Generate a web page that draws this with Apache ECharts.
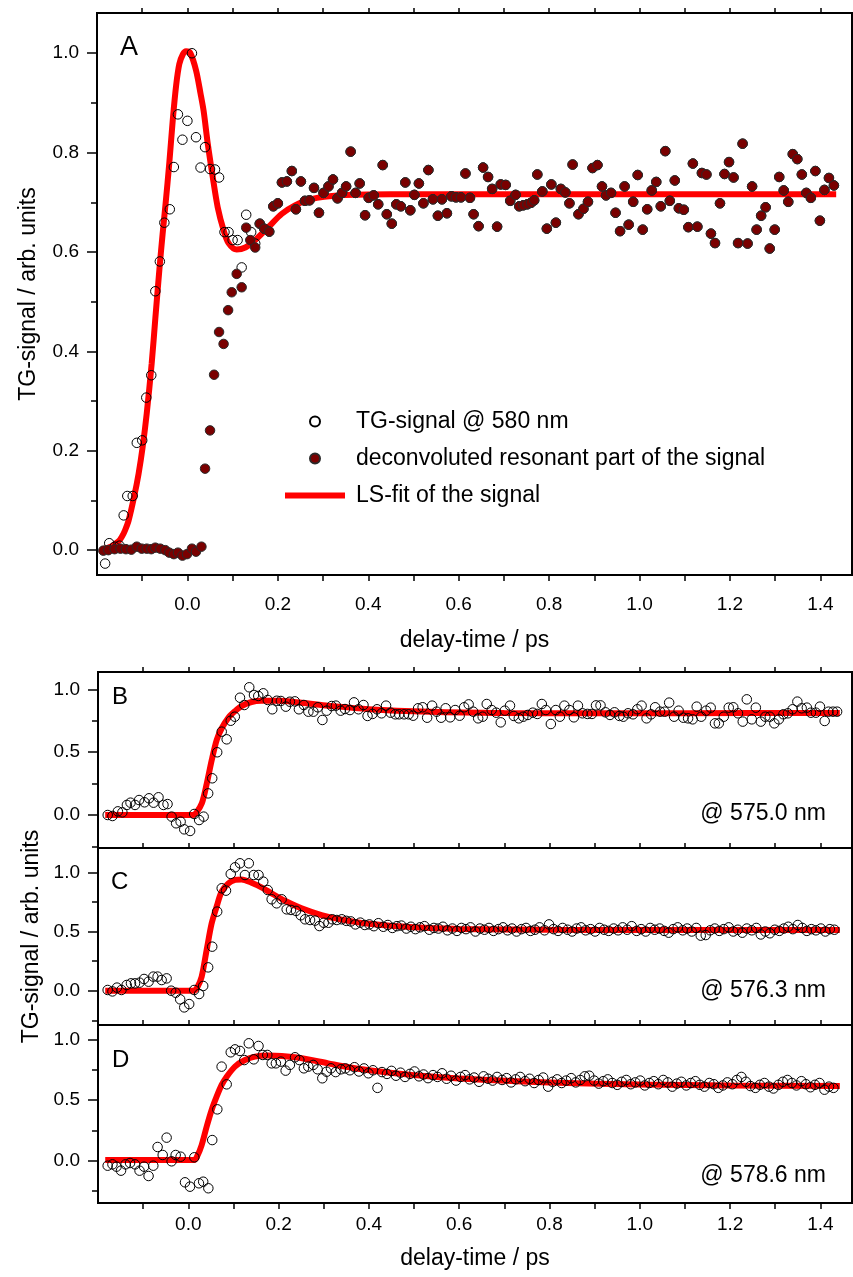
<!DOCTYPE html>
<html><head><meta charset="utf-8">
<script src="https://cdn.jsdelivr.net/npm/echarts@6.0.0/dist/echarts.min.js"></script>
<style>html,body{margin:0;padding:0;background:#fff}#c{width:853px;height:1277px}</style>
</head><body><div id="c"></div>
<script>
// ---------------- DATA ----------------
const xMajorTicks = [0, 0.2, 0.4, 0.6, 0.8, 1.0, 1.2, 1.4];
const xAllTicks = [-0.1, 0, 0.1, 0.2, 0.3, 0.4, 0.5, 0.6, 0.7, 0.8, 0.9, 1.0, 1.1, 1.2, 1.3, 1.4];
const yMajorA = [0, 0.2, 0.4, 0.6, 0.8, 1.0];
const yMinorA = [0.1, 0.3, 0.5, 0.7, 0.9];
const yMajorBCD = [0, 0.5, 1.0];
const yMinorBCD = [-0.25, 0.25, 0.75];

// Panel A: TG-signal @ 580 nm (open circles) before the two curves coincide
const tgEarlyA = [[-0.182,-0.027],[-0.173,0.014],[-0.161,0.007],[-0.150,0.009],[-0.141,0.070],[-0.133,0.109],[-0.121,0.109],[-0.112,0.216],[-0.100,0.221],[-0.091,0.307],[-0.080,0.352],[-0.071,0.521],[-0.061,0.581],[-0.051,0.659],[-0.039,0.686],[-0.030,0.771],[-0.021,0.877],[-0.011,0.826],[0.000,0.864],[0.010,1.000],[0.019,0.831],[0.029,0.770],[0.039,0.811],[0.050,0.767],[0.061,0.766],[0.070,0.750],[0.082,0.640],[0.091,0.640],[0.100,0.624],[0.111,0.624],[0.120,0.569],[0.130,0.675],[0.141,0.640],[0.150,0.617]];
// Panel A: deconvoluted resonant part (filled) before the curves coincide
const resEarlyA = [[-0.186,-0.001],[-0.175,0.000],[-0.161,0.002],[-0.148,0.003],[-0.136,0.002],[-0.124,0.001],[-0.112,0.007],[-0.101,0.003],[-0.090,0.003],[-0.080,0.002],[-0.071,0.005],[-0.060,0.003],[-0.049,0.000],[-0.040,-0.005],[-0.030,-0.008],[-0.021,-0.005],[-0.011,-0.011],[-0.001,-0.008],[0.010,0.003],[0.019,-0.003],[0.031,0.007],[0.039,0.164],[0.050,0.241],[0.059,0.353],[0.070,0.439],[0.080,0.415],[0.090,0.483],[0.098,0.519],[0.109,0.556],[0.120,0.529],[0.130,0.649],[0.139,0.624],[0.150,0.609]];
// Panel A: common part (both data sets identical)
const plateauA = [[0.160,0.657],[0.170,0.647],[0.181,0.641],[0.190,0.692],[0.200,0.698],[0.209,0.740],[0.220,0.742],[0.231,0.763],[0.240,0.686],[0.251,0.742],[0.260,0.703],[0.270,0.704],[0.280,0.729],[0.291,0.679],[0.301,0.719],[0.312,0.732],[0.322,0.746],[0.332,0.708],[0.342,0.719],[0.351,0.732],[0.361,0.802],[0.372,0.719],[0.381,0.738],[0.393,0.674],[0.401,0.709],[0.412,0.714],[0.422,0.696],[0.432,0.775],[0.441,0.676],[0.452,0.657],[0.462,0.696],[0.472,0.692],[0.482,0.740],[0.493,0.684],[0.502,0.715],[0.512,0.738],[0.522,0.698],[0.533,0.765],[0.543,0.706],[0.554,0.673],[0.563,0.706],[0.574,0.678],[0.584,0.712],[0.594,0.710],[0.605,0.710],[0.615,0.758],[0.625,0.709],[0.633,0.676],[0.644,0.652],[0.654,0.770],[0.665,0.751],[0.674,0.727],[0.685,0.651],[0.693,0.736],[0.704,0.735],[0.714,0.703],[0.726,0.715],[0.734,0.692],[0.743,0.694],[0.752,0.696],[0.760,0.699],[0.767,0.704],[0.774,0.756],[0.785,0.722],[0.795,0.647],[0.805,0.736],[0.815,0.659],[0.826,0.727],[0.836,0.720],[0.845,0.698],[0.852,0.776],[0.865,0.676],[0.876,0.687],[0.886,0.701],[0.896,0.769],[0.907,0.775],[0.917,0.732],[0.926,0.714],[0.937,0.719],[0.947,0.679],[0.957,0.642],[0.967,0.732],[0.976,0.655],[0.986,0.701],[0.996,0.755],[1.007,0.645],[1.017,0.686],[1.027,0.724],[1.037,0.741],[1.047,0.692],[1.057,0.803],[1.067,0.703],[1.078,0.744],[1.087,0.688],[1.098,0.685],[1.108,0.650],[1.118,0.778],[1.128,0.651],[1.138,0.759],[1.148,0.756],[1.158,0.637],[1.167,0.618],[1.178,0.698],[1.188,0.757],[1.198,0.781],[1.208,0.750],[1.218,0.618],[1.228,0.818],[1.239,0.617],[1.249,0.732],[1.259,0.645],[1.269,0.673],[1.279,0.690],[1.288,0.607],[1.299,0.645],[1.309,0.751],[1.319,0.724],[1.329,0.701],[1.339,0.797],[1.349,0.787],[1.359,0.756],[1.369,0.719],[1.379,0.709],[1.389,0.763],[1.399,0.663],[1.409,0.725],[1.419,0.749],[1.430,0.734]];
const fitA = [[-0.190,0.002],[-0.175,0.005],[-0.164,0.010],[-0.152,0.018],[-0.145,0.027],[-0.138,0.040],[-0.130,0.060],[-0.118,0.107],[-0.108,0.154],[-0.099,0.208],[-0.090,0.275],[-0.079,0.376],[-0.071,0.466],[-0.062,0.565],[-0.055,0.635],[-0.048,0.700],[-0.040,0.780],[-0.032,0.870],[-0.025,0.935],[-0.018,0.978],[-0.010,0.998],[-0.003,1.004],[0.006,1.001],[0.019,0.966],[0.029,0.919],[0.036,0.883],[0.045,0.818],[0.056,0.751],[0.067,0.690],[0.080,0.644],[0.091,0.618],[0.109,0.605],[0.128,0.609],[0.150,0.624],[0.179,0.650],[0.209,0.677],[0.238,0.694],[0.271,0.706],[0.338,0.714],[0.450,0.716],[0.700,0.716],[1.000,0.716],[1.435,0.716]];

// Panel B: @ 575.0 nm
const tgB = [[-0.1785,0.000],[-0.168,-0.008],[-0.156,0.029],[-0.146,0.021],[-0.136,0.080],[-0.128,0.098],[-0.118,0.080],[-0.109,0.119],[-0.097,0.101],[-0.087,0.133],[-0.077,0.098],[-0.066,0.141],[-0.055,0.080],[-0.046,0.087],[-0.037,-0.013],[-0.027,-0.066],[-0.017,-0.053],[-0.009,-0.114],[0.004,-0.127],[0.013,0.008],[0.024,-0.040],[0.034,-0.013],[0.044,0.172],[0.053,0.292],[0.064,0.499],[0.074,0.663],[0.085,0.602],[0.094,0.750],[0.103,0.782],[0.1145,0.933],[0.124,0.875],[0.135,1.016],[0.1455,0.955],[0.155,0.947],[0.166,0.968],[0.176,0.915],[0.186,0.841],[0.196,0.909],[0.205,0.907],[0.216,0.862],[0.225,0.901],[0.236,0.904],[0.245,0.841],[0.256,0.875],[0.266,0.822],[0.277,0.822],[0.287,0.857],[0.297,0.756],[0.3065,0.830],[0.3175,0.867],[0.327,0.870],[0.3375,0.830],[0.347,0.843],[0.358,0.835],[0.367,0.896],[0.377,0.841],[0.388,0.875],[0.397,0.788],[0.408,0.804],[0.418,0.841],[0.428,0.809],[0.438,0.870],[0.448,0.814],[0.4585,0.801],[0.467,0.801],[0.478,0.801],[0.488,0.801],[0.498,0.790],[0.509,0.849],[0.519,0.857],[0.529,0.774],[0.540,0.870],[0.550,0.822],[0.560,0.774],[0.570,0.849],[0.580,0.777],[0.591,0.835],[0.601,0.790],[0.611,0.857],[0.621,0.880],[0.631,0.822],[0.642,0.769],[0.652,0.782],[0.661,0.883],[0.672,0.835],[0.682,0.814],[0.692,0.737],[0.701,0.830],[0.7125,0.870],[0.721,0.788],[0.732,0.769],[0.742,0.782],[0.752,0.796],[0.763,0.814],[0.773,0.804],[0.783,0.883],[0.792,0.835],[0.803,0.724],[0.814,0.835],[0.823,0.782],[0.833,0.870],[0.844,0.835],[0.854,0.777],[0.863,0.870],[0.873,0.809],[0.884,0.804],[0.894,0.804],[0.903,0.872],[0.913,0.872],[0.924,0.817],[0.934,0.796],[0.944,0.817],[0.955,0.788],[0.9635,0.782],[0.974,0.809],[0.985,0.801],[0.9945,0.841],[1.004,0.870],[1.015,0.769],[1.025,0.801],[1.034,0.857],[1.045,0.822],[1.055,0.822],[1.065,0.894],[1.076,0.782],[1.086,0.830],[1.0965,0.774],[1.107,0.769],[1.117,0.761],[1.126,0.862],[1.136,0.782],[1.147,0.830],[1.157,0.854],[1.1665,0.729],[1.175,0.729],[1.186,0.782],[1.197,0.854],[1.207,0.857],[1.2175,0.809],[1.228,0.743],[1.237,0.920],[1.248,0.761],[1.257,0.854],[1.268,0.743],[1.278,0.782],[1.288,0.782],[1.298,0.729],[1.308,0.761],[1.318,0.801],[1.328,0.809],[1.3385,0.841],[1.349,0.902],[1.3585,0.849],[1.370,0.854],[1.379,0.814],[1.390,0.814],[1.399,0.862],[1.4095,0.748],[1.418,0.822],[1.428,0.822],[1.437,0.822]];
const fitB = [[-0.184,0],[0.010,0],[0.018,0.020],[0.030,0.093],[0.041,0.252],[0.052,0.438],[0.063,0.597],[0.074,0.690],[0.089,0.775],[0.103,0.825],[0.118,0.867],[0.140,0.899],[0.162,0.908],[0.199,0.908],[0.251,0.893],[0.310,0.870],[0.400,0.842],[0.535,0.822],[0.700,0.812],[0.905,0.809],[1.100,0.810],[1.443,0.812]];

// Panel C: @ 576.3 nm
const tgC = [[-0.1786,0.006],[-0.168,-0.006],[-0.158,0.026],[-0.148,0.006],[-0.1365,0.048],[-0.127,0.062],[-0.118,0.062],[-0.108,0.068],[-0.098,0.099],[-0.088,0.076],[-0.0775,0.119],[-0.068,0.119],[-0.059,0.090],[-0.048,0.104],[-0.038,0.000],[-0.028,-0.017],[-0.018,-0.073],[-0.009,-0.141],[0.002,-0.113],[0.013,0.006],[0.024,-0.028],[0.033,0.040],[0.044,0.197],[0.053,0.372],[0.064,0.668],[0.074,0.865],[0.0835,0.845],[0.094,0.986],[0.1035,1.042],[0.1145,1.076],[0.1255,0.977],[0.134,1.076],[0.145,0.977],[0.1555,0.977],[0.166,0.921],[0.176,0.850],[0.1846,0.772],[0.1957,0.738],[0.2068,0.772],[0.2179,0.687],[0.2275,0.682],[0.2386,0.674],[0.249,0.637],[0.2587,0.603],[0.2697,0.597],[0.2808,0.592],[0.2904,0.546],[0.300,0.574],[0.3104,0.574],[0.319,0.603],[0.329,0.597],[0.340,0.603],
[0.350,0.590],[0.360,0.585],[0.370,0.560],[0.381,0.575],[0.391,0.555],[0.401,0.560],[0.411,0.545],[0.421,0.570],[0.432,0.540],[0.442,0.555],[0.452,0.530],[0.462,0.545],[0.472,0.550],[0.483,0.525],[0.493,0.540],[0.503,0.520],[0.513,0.535],[0.523,0.545],[0.534,0.515],[0.544,0.530],[0.554,0.525],[0.564,0.540],[0.574,0.510],[0.585,0.525],[0.595,0.505],[0.605,0.530],[0.615,0.520],[0.625,0.535],[0.636,0.500],[0.646,0.525],[0.656,0.515],[0.666,0.530],[0.676,0.505],[0.687,0.520],[0.697,0.535],[0.707,0.510],[0.717,0.525],[0.727,0.500],[0.738,0.520],[0.748,0.530],[0.758,0.505],[0.768,0.515],[0.778,0.535],[0.789,0.510],[0.799,0.560],[0.809,0.520],[0.819,0.505],[0.829,0.530],[0.840,0.515],[0.850,0.500],[0.860,0.525],[0.870,0.535],[0.880,0.510],[0.891,0.520],[0.901,0.500],[0.911,0.530],[0.921,0.515],[0.931,0.505],[0.942,0.525],[0.952,0.510],[0.962,0.535],[0.972,0.515],[0.982,0.545],[0.993,0.505],[1.003,0.520],[1.013,0.500],[1.023,0.530],[1.033,0.515],[1.044,0.525],[1.054,0.505],[1.064,0.490],[1.074,0.520],[1.084,0.535],[1.095,0.510],[1.105,0.525],[1.115,0.500],[1.125,0.530],[1.135,0.465],[1.146,0.470],[1.156,0.510],[1.166,0.525],[1.176,0.505],[1.186,0.520],[1.197,0.535],[1.207,0.500],[1.217,0.515],[1.227,0.490],[1.237,0.525],[1.248,0.510],[1.258,0.530],[1.268,0.475],[1.278,0.500],[1.288,0.485],[1.299,0.515],[1.309,0.505],[1.319,0.525],[1.329,0.540],[1.339,0.520],[1.350,0.555],[1.360,0.530],[1.370,0.505],[1.380,0.520],[1.390,0.510],[1.401,0.525],[1.411,0.500],[1.421,0.520],[1.431,0.515]];
const fitC = [[-0.184,0],[0.012,0],[0.020,0.030],[0.0296,0.118],[0.0406,0.343],[0.0517,0.568],[0.0627,0.709],[0.0738,0.836],[0.0886,0.906],[0.1033,0.935],[0.118,0.940],[0.140,0.912],[0.162,0.873],[0.1846,0.822],[0.214,0.760],[0.251,0.696],[0.295,0.639],[0.340,0.600],[0.400,0.565],[0.500,0.535],[0.600,0.522],[0.800,0.515],[1.000,0.513],[1.443,0.513]];

// Panel D: @ 578.6 nm
const tgD = [[-0.1786,-0.041],[-0.168,-0.030],[-0.159,-0.049],[-0.149,-0.082],[-0.139,-0.030],[-0.129,-0.019],[-0.118,-0.030],[-0.108,-0.082],[-0.098,-0.049],[-0.088,-0.126],[-0.0775,-0.041],[-0.068,0.113],[-0.0567,0.047],[-0.048,0.190],[-0.037,-0.005],[-0.028,0.047],[-0.017,0.033],[-0.0073,-0.178],[0.0037,-0.214],[0.0133,0.028],[0.0236,-0.186],[0.033,-0.173],[0.0444,-0.227],[0.053,0.170],[0.0643,0.423],[0.0738,0.775],[0.085,0.629],[0.094,0.893],[0.1035,0.917],[0.1145,0.904],[0.124,0.829],[0.134,0.967],[0.145,0.835],[0.1555,0.945],[0.165,0.871],[0.175,0.871],[0.1846,0.802],[0.194,0.802],[0.205,0.816],[0.2156,0.742],[0.225,0.789],[0.2364,0.852],[0.246,0.829],[0.256,0.761],[0.2658,0.775],[0.2768,0.789],[0.2864,0.753],[0.2968,0.679],[0.3064,0.733],[0.316,0.761],[0.3264,0.730],[0.338,0.753],
[0.348,0.760],[0.358,0.745],[0.368,0.770],[0.378,0.735],[0.389,0.760],[0.399,0.720],[0.409,0.745],[0.419,0.600],[0.429,0.730],[0.440,0.715],[0.450,0.740],[0.460,0.700],[0.470,0.725],[0.480,0.690],[0.491,0.715],[0.501,0.735],[0.511,0.695],[0.521,0.710],[0.531,0.680],[0.542,0.705],[0.552,0.690],[0.562,0.720],[0.572,0.675],[0.582,0.700],[0.593,0.660],[0.603,0.690],[0.613,0.705],[0.623,0.670],[0.633,0.685],[0.644,0.650],[0.654,0.695],[0.664,0.675],[0.674,0.660],[0.684,0.690],[0.695,0.665],[0.705,0.680],[0.715,0.645],[0.725,0.670],[0.735,0.690],[0.746,0.655],[0.756,0.675],[0.766,0.640],[0.776,0.665],[0.786,0.685],[0.797,0.610],[0.807,0.650],[0.817,0.670],[0.827,0.640],[0.837,0.660],[0.848,0.680],[0.858,0.645],[0.868,0.665],[0.878,0.695],[0.888,0.700],[0.899,0.660],[0.909,0.635],[0.919,0.655],[0.929,0.670],[0.939,0.640],[0.950,0.625],[0.960,0.650],[0.970,0.665],[0.980,0.630],[0.990,0.645],[1.001,0.660],[1.011,0.620],[1.021,0.640],[1.031,0.655],[1.041,0.630],[1.052,0.665],[1.062,0.645],[1.072,0.610],[1.082,0.635],[1.092,0.650],[1.103,0.620],[1.113,0.640],[1.123,0.655],[1.133,0.625],[1.143,0.610],[1.154,0.640],[1.164,0.630],[1.174,0.600],[1.184,0.620],[1.194,0.645],[1.205,0.630],[1.215,0.665],[1.225,0.690],[1.235,0.650],[1.245,0.615],[1.256,0.600],[1.266,0.625],[1.276,0.640],[1.286,0.610],[1.296,0.595],[1.307,0.625],[1.317,0.650],[1.327,0.665],[1.337,0.640],[1.347,0.620],[1.358,0.655],[1.368,0.630],[1.378,0.605],[1.388,0.625],[1.398,0.640],[1.409,0.585],[1.419,0.610],[1.429,0.600]];
const fitD = [[-0.184,0.006],[0.013,0.006],[0.020,0.040],[0.0296,0.129],[0.0406,0.280],[0.0517,0.418],[0.0627,0.527],[0.0738,0.624],[0.085,0.692],[0.1033,0.775],[0.1255,0.829],[0.1477,0.857],[0.177,0.866],[0.2364,0.852],[0.310,0.802],[0.340,0.780],[0.400,0.745],[0.500,0.705],[0.600,0.678],[0.800,0.645],[1.000,0.628],[1.200,0.620],[1.443,0.615]];

const panelLetters = ['A', 'B', 'C', 'D'];
const wavelengthLabels = ['@ 575.0 nm', '@ 576.3 nm', '@ 578.6 nm'];
const legendNames = ['TG-signal @ 580 nm', 'deconvoluted resonant part of the signal', 'LS-fit of the signal'];

// ---------------- LAYOUT ----------------
const FONT = '"Liberation Sans", Arial, Helvetica, sans-serif';
const X_MIN = -0.2, X_MAX = 1.47;
const grids = [
  {left: 97, top: 13, width: 755, height: 562},
  {left: 98, top: 672, width: 754, height: 176},
  {left: 98, top: 848, width: 754, height: 177},
  {left: 98, top: 1025, width: 754, height: 178}
];
const yRanges = [[-0.050, 1.081], [-0.2625, 1.1376], [-0.2897, 1.2052], [-0.3484, 1.1178]];

const xAxes = [], yAxes = [];
grids.forEach((g, i) => {
  const showBottom = (i === 0 || i === 3);
  xAxes.push({
    gridIndex: i, type: 'value', min: X_MIN, max: X_MAX, position: 'bottom',
    axisLine: {show: false, onZero: false}, splitLine: {show: false},
    axisTick: {show: showBottom, length: 6, lineStyle: {color: '#000', width: 1.5}, customValues: xAllTicks},
    axisLabel: {show: showBottom, customValues: xMajorTicks, formatter: v => v.toFixed(1),
      fontSize: 19, color: '#000', fontFamily: FONT, margin: i === 0 ? 20 : 12},
    name: showBottom ? 'delay-time / ps' : '', nameLocation: 'middle', nameGap: i === 0 ? 54 : 44,
    nameTextStyle: {fontSize: 23, color: '#000', fontFamily: FONT}
  });
  xAxes.push({
    gridIndex: i, type: 'value', min: X_MIN, max: X_MAX, position: 'top',
    axisLine: {show: false, onZero: false}, splitLine: {show: false},
    axisTick: {show: true, length: 5, lineStyle: {color: '#000', width: 1.5}, customValues: xAllTicks},
    axisLabel: {show: false}
  });
  const maj = i === 0 ? yMajorA : yMajorBCD;
  const min = i === 0 ? yMinorA : yMinorBCD;
  yAxes.push({
    gridIndex: i, type: 'value', min: yRanges[i][0], max: yRanges[i][1], position: 'left',
    axisLine: {show: false, onZero: false}, splitLine: {show: false},
    axisTick: {show: true, length: 10, lineStyle: {color: '#000', width: 1.5}, customValues: maj},
    axisLabel: {show: true, customValues: maj, formatter: v => v.toFixed(1), fontSize: 19, color: '#000', fontFamily: FONT, margin: 18},
    name: (i === 0 || i === 2) ? 'TG-signal / arb. units' : '', nameLocation: 'middle', nameGap: i === 0 ? 57 : 55,
    nameTextStyle: {fontSize: 23, color: '#000', fontFamily: FONT}
  });
  yAxes.push({
    gridIndex: i, type: 'value', min: yRanges[i][0], max: yRanges[i][1], position: 'left',
    axisLine: {show: false, onZero: false}, splitLine: {show: false},
    axisTick: {show: true, length: 6, lineStyle: {color: '#000', width: 1.5}, customValues: min},
    axisLabel: {show: false}
  });
});

const openStyle = {color: 'rgba(0,0,0,0)', borderColor: '#000', borderWidth: 1, opacity: 1};
const filledStyle = {color: '#7a0000', borderColor: '#2a2a2a', borderWidth: 1, opacity: 1};
function fitSeries(name, data, gi) {
  return {name, type: 'line', data, xAxisIndex: 2 * gi, yAxisIndex: 2 * gi, smooth: 0.3,
    symbol: 'none', showSymbol: false, lineStyle: {color: '#ff0000', width: 6}, itemStyle: {color: '#ff0000'}, z: 2, silent: true};
}
function openSeries(name, data, gi) {
  return {name, type: 'scatter', data, xAxisIndex: 2 * gi, yAxisIndex: 2 * gi, symbol: 'circle', symbolSize: 9.5,
    itemStyle: openStyle, z: 3, silent: true};
}

const series = [
  fitSeries(legendNames[2], fitA, 0),
  openSeries(legendNames[0], tgEarlyA.concat(plateauA), 0),
  {name: legendNames[1], type: 'scatter', data: resEarlyA.concat(plateauA), xAxisIndex: 0, yAxisIndex: 0,
    symbol: 'circle', symbolSize: 9.5, itemStyle: filledStyle, z: 4, silent: true},
  fitSeries('fitB', fitB, 1), openSeries('dataB', tgB, 1),
  fitSeries('fitC', fitC, 2), openSeries('dataC', tgC, 2),
  fitSeries('fitD', fitD, 3), openSeries('dataD', tgD, 3)
];

const graphic = [];
const letterPos = [[120, 48], [112, 699], [111, 884], [112, 1062]];
panelLetters.forEach((L, i) => graphic.push({type: 'text', left: letterPos[i][0], top: letterPos[i][1] - 14,
  style: {text: L, fill: '#000', font: (i === 0 ? '27px ' : '24px ') + FONT}}));
const wlPos = [815, 992, 1177];
wavelengthLabels.forEach((t, i) => graphic.push({type: 'text', right: 27, top: wlPos[i] - 13,
  style: {text: t, fill: '#000', font: '23px ' + FONT}}));

const chart = echarts.init(document.getElementById('c'), null, {renderer: 'canvas'});
chart.setOption({
  animation: false,
  backgroundColor: '#fff',
  grid: grids.map(g => Object.assign({show: true, borderColor: '#000', borderWidth: 2, backgroundColor: 'rgba(0,0,0,0)', containLabel: false}, g)),
  xAxis: xAxes,
  yAxis: yAxes,
  legend: {
    data: [
      {name: legendNames[0]},
      {name: legendNames[1]},
      {name: legendNames[2], icon: 'path://M0,0L60,0L60,6L0,6Z'}
    ],
    orient: 'vertical', left: 280, top: 405, itemWidth: 60, itemHeight: 10, itemGap: 14,
    selectedMode: false,
    textStyle: {fontSize: 23, color: '#000', fontFamily: FONT, padding: [0, 0, 0, 6]}
  },
  series,
  graphic
});
</script></body></html>
